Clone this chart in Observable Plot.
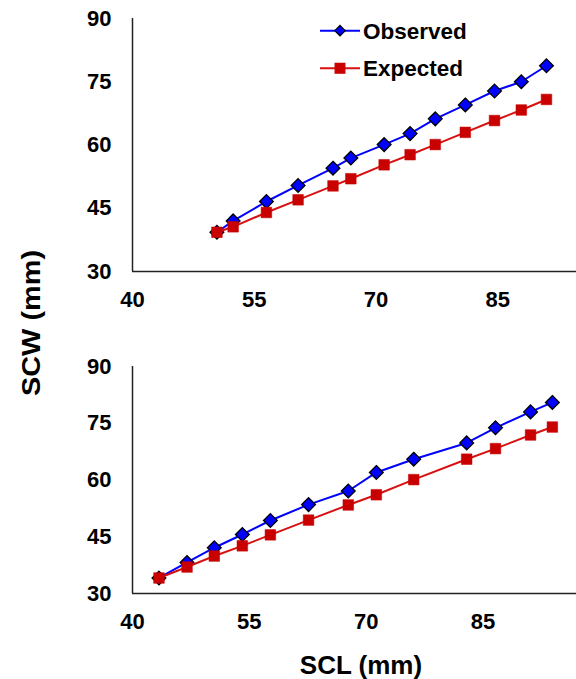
<!DOCTYPE html>
<html>
<head>
<meta charset="utf-8">
<script src="https://cdn.jsdelivr.net/npm/d3@7"></script>
<script src="https://cdn.jsdelivr.net/npm/@observablehq/plot@0.6"></script>
<style>
  html, body { margin: 0; padding: 0; background: #fff; }
  #wrap { position: relative; width: 576px; height: 679px; overflow: hidden; background: #fff;
          font-family: "Liberation Sans", Arial, sans-serif; }
  #top, #bottom, #overlay { position: absolute; left: 0; }
  #top { top: 0; }
  #bottom { top: 340px; }
  #overlay { top: 0; pointer-events: none; }
</style>
</head>
<body>
<div id="wrap">
  <div id="top"></div>
  <div id="bottom"></div>
  <svg id="overlay" width="576" height="679"></svg>
</div>
<script>
// ---- Data ----
const seriesNames = ["Observed", "Expected"];
const xTicks = [40, 55, 70, 85];
const yTicks = [30, 45, 60, 75, 90];

// Upper panel
const topSCL      = [50.4, 52.4, 56.5, 60.4, 64.7, 66.9, 71.0, 74.2, 77.3, 81.0, 84.6, 87.9, 91.0];
const topObserved = [39.3, 42.0, 46.6, 50.4, 54.5, 56.9, 60.1, 62.7, 66.2, 69.5, 72.8, 75.0, 78.8];
const topExpected = [39.3, 40.6, 44.0, 47.0, 50.3, 52.0, 55.3, 57.7, 60.1, 63.0, 65.8, 68.3, 70.8];

// Lower panel
const botSCL      = [43.4, 47.0, 50.5, 54.1, 57.7, 62.6, 67.7, 71.3, 76.1, 82.9, 86.6, 91.1, 93.9];
const botObserved = [34.1, 38.2, 42.1, 45.6, 49.3, 53.5, 57.1, 62.0, 65.5, 69.8, 73.8, 78.0, 80.5];
const botExpected = [34.1, 37.0, 39.9, 42.6, 45.5, 49.4, 53.4, 56.1, 60.1, 65.5, 68.3, 71.9, 74.0];

const xLabel = "SCL (mm)";
const yLabel = "SCW (mm)";

// ---- Styles ----
const FONT = '"Liberation Sans", Arial, sans-serif';
const BLUE = "#0000FF";
const RED_LINE = "#D81010";
const RED_FILL = "#C80000";

function rows(xs, obs, exp) {
  return xs.map((x, i) => ({ x, obs: obs[i], exp: exp[i] }));
}

function panel(data, opts) {
  return Plot.plot({
    width: 576,
    height: opts.height,
    marginTop: opts.marginTop,
    marginBottom: opts.marginBottom,
    marginLeft: 132,
    marginRight: 0,
    style: { fontFamily: FONT, fontSize: "22px", fontWeight: "bold", color: "#000", background: "transparent", overflow: "visible" },
    x: { domain: opts.xDomain, axis: null },
    y: { domain: [30, 90], axis: null },
    marks: [
      Plot.axisX({ ticks: xTicks, tickSize: 0, tickPadding: 20, label: null, fontSize: 22, fontWeight: "bold", fill: "#000" }),
      Plot.axisY({ ticks: yTicks, tickSize: 0, tickPadding: 21, label: null, fontSize: 22, fontWeight: "bold", fill: "#000" }),
      Plot.ruleX([opts.xDomain[0]], { stroke: "#222", strokeWidth: 1.5 }),
      Plot.ruleY([30], { stroke: "#222", strokeWidth: 1.5 }),
      Plot.line(data, { x: "x", y: "obs", stroke: BLUE, strokeWidth: 2 }),
      Plot.dot(data, { x: "x", y: "obs", symbol: "diamond2", r: 6.2, fill: BLUE, stroke: "#000", strokeWidth: 1.3 }),
      Plot.line(data, { x: "x", y: "exp", stroke: RED_LINE, strokeWidth: 2 }),
      Plot.dot(data, { x: "x", y: "exp", symbol: "square", r: 6.0, fill: RED_FILL, stroke: RED_FILL, strokeWidth: 0.5 })
    ]
  });
}

document.getElementById("top").append(
  panel(rows(topSCL, topObserved, topExpected), { height: 315, marginTop: 18, marginBottom: 44, xDomain: [40, 94.7] })
);
document.getElementById("bottom").append(
  panel(rows(botSCL, botObserved, botExpected), { height: 300, marginTop: 26, marginBottom: 47, xDomain: [40, 97] })
);

// ---- Titles and legend ----
const ov = d3.select("#overlay");
ov.append("text")
  .attr("transform", "translate(40,323) rotate(-90)")
  .attr("text-anchor", "middle")
  .attr("font-family", FONT).attr("font-weight", "bold").attr("font-size", 26)
  .attr("textLength", 146).attr("lengthAdjust", "spacingAndGlyphs")
  .text(yLabel);
ov.append("text")
  .attr("x", 361).attr("y", 674)
  .attr("text-anchor", "middle")
  .attr("font-family", FONT).attr("font-weight", "bold").attr("font-size", 26)
  .text(xLabel);

const legendRows = [
  { name: seriesNames[0], y: 30.7, color: BLUE, sym: d3.symbolDiamond2, fill: BLUE, stroke: "#000", size: 70 },
  { name: seriesNames[1], y: 68.3, color: RED_LINE, sym: d3.symbolSquare, fill: RED_FILL, stroke: RED_FILL, size: 95 }
];
const lg = ov.selectAll("g.lg").data(legendRows).join("g").attr("class", "lg")
  .attr("transform", d => `translate(0,${d.y})`);
lg.append("line").attr("x1", 320).attr("x2", 360).attr("y1", 0).attr("y2", 0)
  .attr("stroke", d => d.color).attr("stroke-width", 2);
lg.append("path").attr("transform", "translate(340,0)")
  .attr("d", d => d3.symbol(d.sym, d.size)())
  .attr("fill", d => d.fill).attr("stroke", d => d.stroke).attr("stroke-width", 1.2);
lg.append("text").attr("x", 363).attr("y", 8)
  .attr("font-family", FONT).attr("font-weight", "bold").attr("font-size", 22.5)
  .attr("fill", "#000")
  .text(d => d.name);
</script>
</body>
</html>
